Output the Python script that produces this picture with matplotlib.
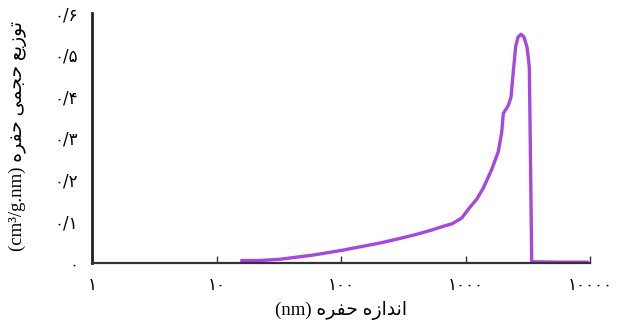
import matplotlib
matplotlib.use("Agg")
import matplotlib.pyplot as plt
from matplotlib.ticker import FixedLocator, FixedFormatter, NullLocator

# Data (pore size in nm, volume distribution)
pore_size_nm = [16.0, 22.4, 32.4, 59.6, 104, 206, 298, 408, 548, 660, 779, 933,
                1067, 1237, 1390, 1622, 1833, 1953, 2013, 2208, 2320, 2422, 2531,
                2642, 2793, 2953, 3120, 3256, 3296, 3357, 3403, 5741, 9460]
volume_dist = [0.006, 0.006, 0.009, 0.019, 0.031, 0.048, 0.059, 0.069, 0.080,
               0.088, 0.094, 0.108, 0.131, 0.154, 0.180, 0.224, 0.267, 0.313,
               0.359, 0.378, 0.398, 0.460, 0.520, 0.542, 0.549, 0.542, 0.518,
               0.470, 0.345, 0.152, 0.003, 0.002, 0.002]

x_ticks = [1, 10, 100, 1000, 10000]
x_tick_labels = ["۱", "۱۰", "۱۰۰", "۱۰۰۰", "۱۰۰۰۰"]
y_ticks = [0, 0.1, 0.2, 0.3, 0.4, 0.5, 0.6]
y_tick_labels = ["۰", "۰/۱", "۰/۲", "۰/۳", "۰/۴", "۰/۵", "۰/۶"]

# Persian labels written in shaped (presentation) forms, visual order
x_label = "(nm) " + "\uFEE9\uFEAE\uFED4\uFEA3" + " " + "\uFEE9\uFEAF\uFE8D\uFEAA\uFEE7\uFE8D"
y_label = ("(cm³/g.nm) " + "\uFEE9\uFEAE\uFED4\uFEA3" + " " +
           "\uFEF0\uFEE4\uFEA0\uFEA3" + " " + "\uFECA\uFEF3\uFEAF\uFEEE\uFE97")

fig = plt.figure(figsize=(6.33, 3.24), dpi=100)
ax = fig.add_axes([92/633, 61/324, 498/633, 250/324])

ax.plot(pore_size_nm, volume_dist, color="#A448E0", lw=2.4, solid_joinstyle="round")

ax.set_xscale("log")
ax.set_xlim(1, 10000)
ax.set_ylim(0, 0.6)

ax.xaxis.set_major_locator(FixedLocator(x_ticks))
ax.xaxis.set_major_formatter(FixedFormatter(x_tick_labels))
ax.xaxis.set_minor_locator(NullLocator())
ax.yaxis.set_major_locator(FixedLocator(y_ticks))
ax.yaxis.set_major_formatter(FixedFormatter(y_tick_labels))

ax.tick_params(axis="x", direction="in", length=5, width=1, color="#333333",
               pad=9, labelsize=12)
ax.tick_params(axis="y", length=0, pad=10, labelsize=12)
for lab in ax.get_xticklabels() + ax.get_yticklabels():
    lab.set_family("DejaVu Sans")

for s in ["top", "right"]:
    ax.spines[s].set_visible(False)
ax.spines["left"].set_linewidth(2.0)
ax.spines["left"].set_color("#222222")
ax.spines["bottom"].set_linewidth(1.6)
ax.spines["bottom"].set_color("#333333")

fam = ["Liberation Serif", "DejaVu Sans"]
fig.text(341/633, 1 - 310/324, x_label, ha="center", va="center",
         fontsize=13.5, family=fam)
fig.text(18/633, 1 - 136/324, y_label, ha="center", va="center",
         rotation=90, fontsize=13.5, family=fam)

fig.savefig("out.png", dpi=100)
